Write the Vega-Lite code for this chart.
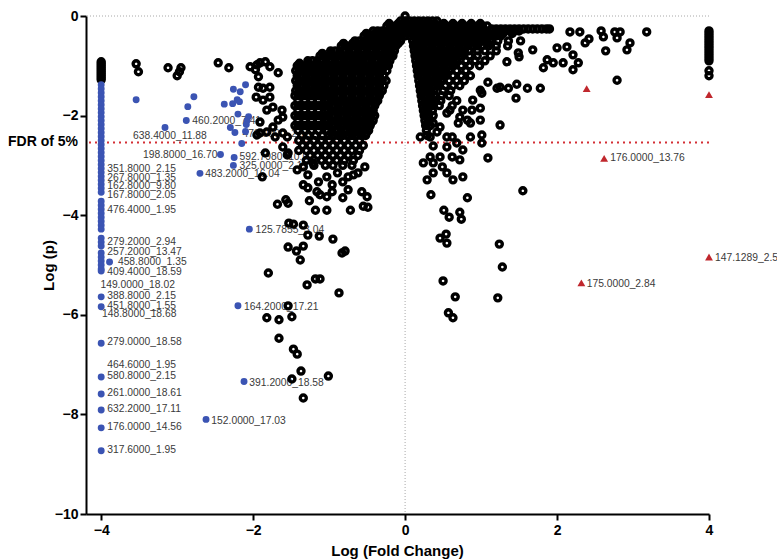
{
"$schema": "https://vega.github.io/schema/vega-lite/v6.json",
"width": 623, "height": 498,
"autosize": {"type": "none"},
"padding": {"left": 86, "top": 16, "right": 68, "bottom": 45},
"background": "white",
"config": {
 "view": {"stroke": null},
 "font": "Liberation Sans",
 "axis": {"domainColor": "black", "domainWidth": 2, "tickColor": "black", "tickWidth": 2, "tickSize": 6, "labelFont": "Liberation Sans", "labelFontWeight": "bold", "labelFontSize": 14, "labelColor": "black", "titleFont": "Liberation Sans", "titleFontWeight": "bold", "titleFontSize": 15, "titleColor": "black", "grid": false, "labelFlush": false}
},
"datasets": {
"rings": [
{"x":0,"y":0},
{"x":-0.06,"y":-0.1},{"x":0,"y":-0.1},{"x":0.06,"y":-0.1},{"x":0.12,"y":-0.1},{"x":0.18,"y":-0.1},{"x":0.24,"y":-0.1},{"x":0.3,"y":-0.1},{"x":0.36,"y":-0.1},{"x":0.42,"y":-0.1},
{"x":-0.24,"y":-0.2},{"x":-0.18,"y":-0.2},{"x":-0.12,"y":-0.2},{"x":-0.06,"y":-0.2},{"x":0,"y":-0.2},{"x":0.06,"y":-0.2},{"x":0.12,"y":-0.2},{"x":0.18,"y":-0.2},{"x":0.24,"y":-0.2},{"x":0.3,"y":-0.2},{"x":0.36,"y":-0.2},{"x":0.42,"y":-0.2},{"x":0.48,"y":-0.2},{"x":0.54,"y":-0.2},{"x":0.6,"y":-0.2},{"x":0.66,"y":-0.2},{"x":0.72,"y":-0.2},{"x":0.78,"y":-0.2},{"x":0.84,"y":-0.2},{"x":0.9,"y":-0.2},{"x":0.96,"y":-0.2},{"x":1.02,"y":-0.2},{"x":1.08,"y":-0.2},
{"x":1.14,"y":-0.26},{"x":1.2,"y":-0.26},{"x":1.26,"y":-0.26},{"x":1.32,"y":-0.26},{"x":1.38,"y":-0.26},{"x":1.44,"y":-0.26},{"x":1.5,"y":-0.26},{"x":1.56,"y":-0.26},{"x":1.62,"y":-0.26},{"x":1.68,"y":-0.26},{"x":1.74,"y":-0.26},{"x":1.8,"y":-0.26},{"x":1.86,"y":-0.26},{"x":1.9,"y":-0.26},
{"x":-0.42,"y":-0.3},{"x":-0.36,"y":-0.3},{"x":-0.3,"y":-0.3},{"x":-0.24,"y":-0.3},{"x":-0.18,"y":-0.3},{"x":-0.12,"y":-0.3},{"x":-0.06,"y":-0.3},{"x":0,"y":-0.3},{"x":0.06,"y":-0.3},{"x":0.12,"y":-0.3},{"x":0.18,"y":-0.3},{"x":0.24,"y":-0.3},{"x":0.3,"y":-0.3},{"x":0.36,"y":-0.3},{"x":0.42,"y":-0.3},{"x":0.48,"y":-0.3},{"x":0.54,"y":-0.3},{"x":0.6,"y":-0.3},{"x":0.66,"y":-0.3},{"x":0.72,"y":-0.3},{"x":0.78,"y":-0.3},{"x":0.84,"y":-0.3},{"x":0.9,"y":-0.3},{"x":0.96,"y":-0.3},{"x":1.02,"y":-0.3},{"x":1.08,"y":-0.3},{"x":1.14,"y":-0.3},{"x":1.2,"y":-0.3},{"x":1.26,"y":-0.3},{"x":1.32,"y":-0.3},{"x":1.38,"y":-0.3},{"x":1.44,"y":-0.3},{"x":1.5,"y":-0.3},
{"x":-0.54,"y":-0.4},{"x":-0.48,"y":-0.4},{"x":-0.42,"y":-0.4},{"x":-0.36,"y":-0.4},{"x":-0.3,"y":-0.4},{"x":-0.24,"y":-0.4},{"x":-0.18,"y":-0.4},{"x":-0.12,"y":-0.4},{"x":-0.06,"y":-0.4},{"x":0,"y":-0.4},{"x":0.06,"y":-0.4},{"x":0.12,"y":-0.4},{"x":0.18,"y":-0.4},{"x":0.24,"y":-0.4},{"x":0.3,"y":-0.4},{"x":0.36,"y":-0.4},{"x":0.42,"y":-0.4},{"x":0.48,"y":-0.4},{"x":0.54,"y":-0.4},{"x":0.6,"y":-0.4},{"x":0.66,"y":-0.4},{"x":0.72,"y":-0.4},{"x":0.78,"y":-0.4},{"x":0.84,"y":-0.4},{"x":0.9,"y":-0.4},{"x":0.96,"y":-0.4},{"x":1.02,"y":-0.4},{"x":1.08,"y":-0.4},{"x":1.14,"y":-0.4},{"x":1.2,"y":-0.4},{"x":1.26,"y":-0.4},
{"x":-0.66,"y":-0.5},{"x":-0.6,"y":-0.5},{"x":-0.54,"y":-0.5},{"x":-0.48,"y":-0.5},{"x":-0.42,"y":-0.5},{"x":-0.36,"y":-0.5},{"x":-0.3,"y":-0.5},{"x":-0.24,"y":-0.5},{"x":-0.18,"y":-0.5},{"x":-0.12,"y":-0.5},{"x":-0.06,"y":-0.5},{"x":0.1,"y":-0.5},{"x":0.16,"y":-0.5},{"x":0.22,"y":-0.5},{"x":0.28,"y":-0.5},{"x":0.34,"y":-0.5},{"x":0.4,"y":-0.5},{"x":0.46,"y":-0.5},{"x":0.52,"y":-0.5},{"x":0.58,"y":-0.5},{"x":0.64,"y":-0.5},{"x":0.7,"y":-0.5},{"x":0.76,"y":-0.5},{"x":0.82,"y":-0.5},{"x":0.88,"y":-0.5},{"x":0.94,"y":-0.5},{"x":1.0,"y":-0.5},{"x":1.06,"y":-0.5},{"x":1.12,"y":-0.5},{"x":1.22,"y":-0.5},{"x":1.36,"y":-0.5},{"x":1.52,"y":-0.5},
{"x":-0.84,"y":-0.6},{"x":-0.78,"y":-0.6},{"x":-0.72,"y":-0.6},{"x":-0.66,"y":-0.6},{"x":-0.6,"y":-0.6},{"x":-0.54,"y":-0.6},{"x":-0.48,"y":-0.6},{"x":-0.42,"y":-0.6},{"x":-0.36,"y":-0.6},{"x":-0.3,"y":-0.6},{"x":-0.24,"y":-0.6},{"x":-0.18,"y":-0.6},{"x":-0.12,"y":-0.6},{"x":0.11,"y":-0.6},{"x":0.17,"y":-0.6},{"x":0.23,"y":-0.6},{"x":0.29,"y":-0.6},{"x":0.35,"y":-0.6},{"x":0.41,"y":-0.6},{"x":0.47,"y":-0.6},{"x":0.53,"y":-0.6},{"x":0.59,"y":-0.6},{"x":0.65,"y":-0.6},{"x":0.71,"y":-0.6},{"x":0.77,"y":-0.6},{"x":0.83,"y":-0.6},{"x":0.89,"y":-0.6},{"x":0.95,"y":-0.6},{"x":1.01,"y":-0.6},{"x":1.1,"y":-0.6},{"x":1.2,"y":-0.6},{"x":1.35,"y":-0.6},
{"x":-0.98,"y":-0.7},{"x":-0.92,"y":-0.7},{"x":-0.86,"y":-0.7},{"x":-0.8,"y":-0.7},{"x":-0.74,"y":-0.7},{"x":-0.68,"y":-0.7},{"x":-0.62,"y":-0.7},{"x":-0.56,"y":-0.7},{"x":-0.5,"y":-0.7},{"x":-0.44,"y":-0.7},{"x":-0.38,"y":-0.7},{"x":-0.32,"y":-0.7},{"x":-0.26,"y":-0.7},{"x":-0.2,"y":-0.7},{"x":-0.14,"y":-0.7},{"x":0.12,"y":-0.7},{"x":0.18,"y":-0.7},{"x":0.24,"y":-0.7},{"x":0.3,"y":-0.7},{"x":0.36,"y":-0.7},{"x":0.42,"y":-0.7},{"x":0.48,"y":-0.7},{"x":0.54,"y":-0.7},{"x":0.6,"y":-0.7},{"x":0.66,"y":-0.7},{"x":0.72,"y":-0.7},{"x":0.78,"y":-0.7},{"x":0.84,"y":-0.7},{"x":0.95,"y":-0.7},{"x":1.05,"y":-0.7},{"x":1.2,"y":-0.7},
{"x":-1.12,"y":-0.8},{"x":-1.06,"y":-0.8},{"x":-1.0,"y":-0.8},{"x":-0.94,"y":-0.8},{"x":-0.88,"y":-0.8},{"x":-0.82,"y":-0.8},{"x":-0.76,"y":-0.8},{"x":-0.7,"y":-0.8},{"x":-0.64,"y":-0.8},{"x":-0.58,"y":-0.8},{"x":-0.52,"y":-0.8},{"x":-0.46,"y":-0.8},{"x":-0.4,"y":-0.8},{"x":-0.34,"y":-0.8},{"x":-0.28,"y":-0.8},{"x":-0.22,"y":-0.8},{"x":-0.16,"y":-0.8},{"x":0.13,"y":-0.8},{"x":0.19,"y":-0.8},{"x":0.25,"y":-0.8},{"x":0.31,"y":-0.8},{"x":0.37,"y":-0.8},{"x":0.43,"y":-0.8},{"x":0.49,"y":-0.8},{"x":0.55,"y":-0.8},{"x":0.61,"y":-0.8},{"x":0.67,"y":-0.8},{"x":0.73,"y":-0.8},{"x":0.85,"y":-0.8},{"x":0.95,"y":-0.8},{"x":1.12,"y":-0.8},
{"x":-1.28,"y":-0.9},{"x":-1.22,"y":-0.9},{"x":-1.16,"y":-0.9},{"x":-1.1,"y":-0.9},{"x":-1.04,"y":-0.9},{"x":-0.98,"y":-0.9},{"x":-0.92,"y":-0.9},{"x":-0.86,"y":-0.9},{"x":-0.8,"y":-0.9},{"x":-0.74,"y":-0.9},{"x":-0.68,"y":-0.9},{"x":-0.62,"y":-0.9},{"x":-0.56,"y":-0.9},{"x":-0.5,"y":-0.9},{"x":-0.44,"y":-0.9},{"x":-0.38,"y":-0.9},{"x":-0.32,"y":-0.9},{"x":-0.26,"y":-0.9},{"x":-0.2,"y":-0.9},{"x":0.14,"y":-0.9},{"x":0.2,"y":-0.9},{"x":0.26,"y":-0.9},{"x":0.32,"y":-0.9},{"x":0.38,"y":-0.9},{"x":0.44,"y":-0.9},{"x":0.5,"y":-0.9},{"x":0.56,"y":-0.9},{"x":0.62,"y":-0.9},{"x":0.68,"y":-0.9},{"x":0.8,"y":-0.9},{"x":0.92,"y":-0.9},{"x":1.05,"y":-0.9},
{"x":-1.42,"y":-1.0},{"x":-1.36,"y":-1.0},{"x":-1.3,"y":-1.0},{"x":-1.24,"y":-1.0},{"x":-1.18,"y":-1.0},{"x":-1.12,"y":-1.0},{"x":-1.06,"y":-1.0},{"x":-1.0,"y":-1.0},{"x":-0.94,"y":-1.0},{"x":-0.88,"y":-1.0},{"x":-0.82,"y":-1.0},{"x":-0.76,"y":-1.0},{"x":-0.7,"y":-1.0},{"x":-0.64,"y":-1.0},{"x":-0.58,"y":-1.0},{"x":-0.52,"y":-1.0},{"x":-0.46,"y":-1.0},{"x":-0.4,"y":-1.0},{"x":-0.34,"y":-1.0},{"x":-0.28,"y":-1.0},{"x":-0.22,"y":-1.0},{"x":0.15,"y":-1.0},{"x":0.21,"y":-1.0},{"x":0.27,"y":-1.0},{"x":0.33,"y":-1.0},{"x":0.39,"y":-1.0},{"x":0.45,"y":-1.0},{"x":0.51,"y":-1.0},{"x":0.57,"y":-1.0},{"x":0.63,"y":-1.0},{"x":0.74,"y":-1.0},{"x":0.85,"y":-1.0},{"x":0.98,"y":-1.0},
{"x":-1.44,"y":-1.1},{"x":-1.38,"y":-1.1},{"x":-1.32,"y":-1.1},{"x":-1.26,"y":-1.1},{"x":-1.2,"y":-1.1},{"x":-1.14,"y":-1.1},{"x":-1.08,"y":-1.1},{"x":-1.02,"y":-1.1},{"x":-0.96,"y":-1.1},{"x":-0.9,"y":-1.1},{"x":-0.84,"y":-1.1},{"x":-0.78,"y":-1.1},{"x":-0.72,"y":-1.1},{"x":-0.66,"y":-1.1},{"x":-0.6,"y":-1.1},{"x":-0.54,"y":-1.1},{"x":-0.48,"y":-1.1},{"x":-0.42,"y":-1.1},{"x":-0.36,"y":-1.1},{"x":-0.3,"y":-1.1},{"x":-0.24,"y":-1.1},{"x":0.16,"y":-1.1},{"x":0.22,"y":-1.1},{"x":0.28,"y":-1.1},{"x":0.34,"y":-1.1},{"x":0.4,"y":-1.1},{"x":0.46,"y":-1.1},{"x":0.52,"y":-1.1},{"x":0.58,"y":-1.1},{"x":0.68,"y":-1.1},{"x":0.8,"y":-1.1},
{"x":-1.42,"y":-1.2},{"x":-1.36,"y":-1.2},{"x":-1.3,"y":-1.2},{"x":-1.24,"y":-1.2},{"x":-1.18,"y":-1.2},{"x":-1.12,"y":-1.2},{"x":-1.06,"y":-1.2},{"x":-1.0,"y":-1.2},{"x":-0.94,"y":-1.2},{"x":-0.88,"y":-1.2},{"x":-0.82,"y":-1.2},{"x":-0.76,"y":-1.2},{"x":-0.7,"y":-1.2},{"x":-0.64,"y":-1.2},{"x":-0.58,"y":-1.2},{"x":-0.52,"y":-1.2},{"x":-0.46,"y":-1.2},{"x":-0.4,"y":-1.2},{"x":-0.34,"y":-1.2},{"x":-0.28,"y":-1.2},{"x":0.17,"y":-1.2},{"x":0.23,"y":-1.2},{"x":0.29,"y":-1.2},{"x":0.35,"y":-1.2},{"x":0.41,"y":-1.2},{"x":0.47,"y":-1.2},{"x":0.53,"y":-1.2},{"x":0.63,"y":-1.2},{"x":0.74,"y":-1.2},{"x":0.86,"y":-1.2},
{"x":-1.44,"y":-1.3},{"x":-1.38,"y":-1.3},{"x":-1.32,"y":-1.3},{"x":-1.26,"y":-1.3},{"x":-1.2,"y":-1.3},{"x":-1.14,"y":-1.3},{"x":-1.08,"y":-1.3},{"x":-1.02,"y":-1.3},{"x":-0.96,"y":-1.3},{"x":-0.9,"y":-1.3},{"x":-0.84,"y":-1.3},{"x":-0.78,"y":-1.3},{"x":-0.72,"y":-1.3},{"x":-0.66,"y":-1.3},{"x":-0.6,"y":-1.3},{"x":-0.54,"y":-1.3},{"x":-0.48,"y":-1.3},{"x":-0.42,"y":-1.3},{"x":-0.36,"y":-1.3},{"x":-0.3,"y":-1.3},{"x":-0.25,"y":-1.3},{"x":0.18,"y":-1.3},{"x":0.24,"y":-1.3},{"x":0.3,"y":-1.3},{"x":0.36,"y":-1.3},{"x":0.42,"y":-1.3},{"x":0.48,"y":-1.3},{"x":0.58,"y":-1.3},{"x":0.68,"y":-1.3},{"x":0.78,"y":-1.3},
{"x":-1.42,"y":-1.4},{"x":-1.36,"y":-1.4},{"x":-1.3,"y":-1.4},{"x":-1.24,"y":-1.4},{"x":-1.18,"y":-1.4},{"x":-1.12,"y":-1.4},{"x":-1.06,"y":-1.4},{"x":-1.0,"y":-1.4},{"x":-0.94,"y":-1.4},{"x":-0.88,"y":-1.4},{"x":-0.82,"y":-1.4},{"x":-0.76,"y":-1.4},{"x":-0.7,"y":-1.4},{"x":-0.64,"y":-1.4},{"x":-0.58,"y":-1.4},{"x":-0.52,"y":-1.4},{"x":-0.46,"y":-1.4},{"x":-0.4,"y":-1.4},{"x":-0.34,"y":-1.4},{"x":-0.28,"y":-1.4},{"x":0.19,"y":-1.4},{"x":0.25,"y":-1.4},{"x":0.31,"y":-1.4},{"x":0.37,"y":-1.4},{"x":0.43,"y":-1.4},{"x":0.53,"y":-1.4},{"x":0.63,"y":-1.4},{"x":0.72,"y":-1.4},
{"x":-1.44,"y":-1.5},{"x":-1.38,"y":-1.5},{"x":-1.32,"y":-1.5},{"x":-1.26,"y":-1.5},{"x":-1.2,"y":-1.5},{"x":-1.14,"y":-1.5},{"x":-1.08,"y":-1.5},{"x":-1.02,"y":-1.5},{"x":-0.96,"y":-1.5},{"x":-0.9,"y":-1.5},{"x":-0.84,"y":-1.5},{"x":-0.78,"y":-1.5},{"x":-0.72,"y":-1.5},{"x":-0.66,"y":-1.5},{"x":-0.6,"y":-1.5},{"x":-0.54,"y":-1.5},{"x":-0.48,"y":-1.5},{"x":-0.42,"y":-1.5},{"x":-0.36,"y":-1.5},{"x":-0.3,"y":-1.5},{"x":0.2,"y":-1.5},{"x":0.26,"y":-1.5},{"x":0.32,"y":-1.5},{"x":0.38,"y":-1.5},{"x":0.5,"y":-1.5},{"x":0.6,"y":-1.5},
{"x":-1.45,"y":-1.6},{"x":-1.36,"y":-1.6},{"x":-1.27,"y":-1.6},{"x":-1.18,"y":-1.6},{"x":-1.09,"y":-1.6},{"x":-1.0,"y":-1.6},{"x":-0.94,"y":-1.6},{"x":-0.88,"y":-1.6},{"x":-0.82,"y":-1.6},{"x":-0.76,"y":-1.6},{"x":-0.7,"y":-1.6},{"x":-0.64,"y":-1.6},{"x":-0.58,"y":-1.6},{"x":-0.52,"y":-1.6},{"x":-0.46,"y":-1.6},{"x":-0.4,"y":-1.6},{"x":-0.34,"y":-1.6},{"x":0.21,"y":-1.6},{"x":0.27,"y":-1.6},{"x":0.33,"y":-1.6},{"x":0.39,"y":-1.6},{"x":0.48,"y":-1.6},{"x":0.58,"y":-1.6},
{"x":-1.41,"y":-1.7},{"x":-1.32,"y":-1.7},{"x":-1.23,"y":-1.7},{"x":-1.14,"y":-1.7},{"x":-1.02,"y":-1.7},{"x":-0.96,"y":-1.7},{"x":-0.9,"y":-1.7},{"x":-0.84,"y":-1.7},{"x":-0.78,"y":-1.7},{"x":-0.72,"y":-1.7},{"x":-0.66,"y":-1.7},{"x":-0.6,"y":-1.7},{"x":-0.54,"y":-1.7},{"x":-0.48,"y":-1.7},{"x":-0.42,"y":-1.7},{"x":-0.36,"y":-1.7},{"x":0.22,"y":-1.7},{"x":0.28,"y":-1.7},{"x":0.34,"y":-1.7},{"x":0.4,"y":-1.7},{"x":0.47,"y":-1.7},{"x":0.68,"y":-1.7},
{"x":-1.45,"y":-1.8},{"x":-1.36,"y":-1.8},{"x":-1.27,"y":-1.8},{"x":-1.18,"y":-1.8},{"x":-1.09,"y":-1.8},{"x":-1.0,"y":-1.8},{"x":-0.94,"y":-1.8},{"x":-0.88,"y":-1.8},{"x":-0.82,"y":-1.8},{"x":-0.76,"y":-1.8},{"x":-0.7,"y":-1.8},{"x":-0.64,"y":-1.8},{"x":-0.58,"y":-1.8},{"x":-0.52,"y":-1.8},{"x":-0.46,"y":-1.8},{"x":-0.4,"y":-1.8},{"x":0.23,"y":-1.8},{"x":0.29,"y":-1.8},{"x":0.35,"y":-1.8},{"x":0.45,"y":-1.8},{"x":0.62,"y":-1.8},
{"x":-1.41,"y":-1.9},{"x":-1.32,"y":-1.9},{"x":-1.23,"y":-1.9},{"x":-1.14,"y":-1.9},{"x":-1.02,"y":-1.9},{"x":-0.96,"y":-1.9},{"x":-0.9,"y":-1.9},{"x":-0.84,"y":-1.9},{"x":-0.78,"y":-1.9},{"x":-0.72,"y":-1.9},{"x":-0.66,"y":-1.9},{"x":-0.6,"y":-1.9},{"x":-0.54,"y":-1.9},{"x":-0.48,"y":-1.9},{"x":-0.42,"y":-1.9},{"x":0.24,"y":-1.9},{"x":0.3,"y":-1.9},{"x":0.36,"y":-1.9},
{"x":-1.45,"y":-2.0},{"x":-1.36,"y":-2.0},{"x":-1.27,"y":-2.0},{"x":-1.18,"y":-2.0},{"x":-1.09,"y":-2.0},{"x":-1.0,"y":-2.0},{"x":-0.94,"y":-2.0},{"x":-0.88,"y":-2.0},{"x":-0.82,"y":-2.0},{"x":-0.76,"y":-2.0},{"x":-0.7,"y":-2.0},{"x":-0.64,"y":-2.0},{"x":-0.58,"y":-2.0},{"x":-0.52,"y":-2.0},{"x":-0.46,"y":-2.0},{"x":-0.4,"y":-2.0},{"x":0.25,"y":-2.0},{"x":0.31,"y":-2.0},{"x":0.37,"y":-2.0},
{"x":-1.41,"y":-2.1},{"x":-1.32,"y":-2.1},{"x":-1.23,"y":-2.1},{"x":-1.14,"y":-2.1},{"x":-1.02,"y":-2.1},{"x":-0.96,"y":-2.1},{"x":-0.9,"y":-2.1},{"x":-0.84,"y":-2.1},{"x":-0.78,"y":-2.1},{"x":-0.72,"y":-2.1},{"x":-0.66,"y":-2.1},{"x":-0.6,"y":-2.1},{"x":-0.54,"y":-2.1},{"x":-0.48,"y":-2.1},{"x":-0.42,"y":-2.1},{"x":0.26,"y":-2.1},{"x":0.32,"y":-2.1},
{"x":-1.45,"y":-2.2},{"x":-1.36,"y":-2.2},{"x":-1.27,"y":-2.2},{"x":-1.18,"y":-2.2},{"x":-1.09,"y":-2.2},{"x":-1.0,"y":-2.2},{"x":-0.94,"y":-2.2},{"x":-0.88,"y":-2.2},{"x":-0.82,"y":-2.2},{"x":-0.76,"y":-2.2},{"x":-0.7,"y":-2.2},{"x":-0.64,"y":-2.2},{"x":-0.58,"y":-2.2},{"x":-0.52,"y":-2.2},{"x":-0.46,"y":-2.2},{"x":0.27,"y":-2.2},{"x":0.33,"y":-2.2},
{"x":-1.41,"y":-2.3},{"x":-1.32,"y":-2.3},{"x":-1.23,"y":-2.3},{"x":-1.14,"y":-2.3},{"x":-1.02,"y":-2.3},{"x":-0.96,"y":-2.3},{"x":-0.9,"y":-2.3},{"x":-0.84,"y":-2.3},{"x":-0.78,"y":-2.3},{"x":-0.72,"y":-2.3},{"x":-0.66,"y":-2.3},{"x":-0.6,"y":-2.3},{"x":-0.54,"y":-2.3},{"x":-0.48,"y":-2.3},{"x":0.28,"y":-2.3},
{"x":-1.36,"y":-2.4},{"x":-1.27,"y":-2.4},{"x":-1.18,"y":-2.4},{"x":-1.09,"y":-2.4},{"x":-1.0,"y":-2.4},{"x":-0.94,"y":-2.4},{"x":-0.88,"y":-2.4},{"x":-0.82,"y":-2.4},{"x":-0.76,"y":-2.4},{"x":-0.7,"y":-2.4},{"x":-0.64,"y":-2.4},{"x":-0.58,"y":-2.4},{"x":-0.52,"y":-2.4},{"x":0.29,"y":-2.4},
{"x":-1.4,"y":-2.5},{"x":-1.3,"y":-2.5},{"x":-1.2,"y":-2.5},{"x":-1.1,"y":-2.5},{"x":-1.0,"y":-2.5},{"x":-0.9,"y":-2.5},{"x":-0.8,"y":-2.5},{"x":-0.7,"y":-2.5},{"x":-0.6,"y":-2.5},
{"x":-1.35,"y":-2.6},{"x":-1.25,"y":-2.6},{"x":-1.15,"y":-2.6},{"x":-1.05,"y":-2.6},{"x":-0.95,"y":-2.6},{"x":-0.85,"y":-2.6},{"x":-0.75,"y":-2.6},{"x":-0.65,"y":-2.6},{"x":-0.55,"y":-2.6},
{"x":-1.4,"y":-2.7},{"x":-1.3,"y":-2.7},{"x":-1.2,"y":-2.7},{"x":-1.1,"y":-2.7},{"x":-1.0,"y":-2.7},{"x":-0.9,"y":-2.7},{"x":-0.8,"y":-2.7},{"x":-0.7,"y":-2.7},{"x":-0.6,"y":-2.7},
{"x":-1.25,"y":-2.8},{"x":-1.15,"y":-2.8},{"x":-1.05,"y":-2.8},{"x":-0.95,"y":-2.8},{"x":-0.85,"y":-2.8},{"x":-0.75,"y":-2.8},{"x":-0.62,"y":-2.8},
{"x":-1.3,"y":-2.9},{"x":-1.1,"y":-2.9},{"x":-1.0,"y":-2.9},{"x":-0.9,"y":-2.9},{"x":-0.8,"y":-2.9},{"x":-0.68,"y":-2.9},
{"x":-1.2,"y":-3.0},{"x":-1.05,"y":-3.0},{"x":-0.95,"y":-3.0},{"x":-0.82,"y":-3.0},{"x":-0.7,"y":-3.0},
{"x":-0.21,"y":-0.15},{"x":-0.09,"y":-0.15},{"x":0.03,"y":-0.15},{"x":0.15,"y":-0.15},{"x":0.27,"y":-0.15},{"x":0.39,"y":-0.15},{"x":0.51,"y":-0.15},{"x":0.63,"y":-0.15},{"x":0.75,"y":-0.15},{"x":0.87,"y":-0.15},{"x":0.99,"y":-0.15},
{"x":-0.51,"y":-0.35},{"x":-0.39,"y":-0.35},{"x":-0.27,"y":-0.35},{"x":-0.15,"y":-0.35},{"x":-0.03,"y":-0.35},{"x":0.09,"y":-0.35},{"x":0.21,"y":-0.35},{"x":0.33,"y":-0.35},{"x":0.45,"y":-0.35},{"x":0.57,"y":-0.35},{"x":0.69,"y":-0.35},{"x":0.81,"y":-0.35},{"x":0.93,"y":-0.35},{"x":1.05,"y":-0.35},{"x":1.17,"y":-0.35},{"x":1.29,"y":-0.35},{"x":1.41,"y":-0.35},
{"x":-0.81,"y":-0.55},{"x":-0.69,"y":-0.55},{"x":-0.57,"y":-0.55},{"x":-0.45,"y":-0.55},{"x":-0.33,"y":-0.55},{"x":-0.21,"y":-0.55},{"x":-0.09,"y":-0.55},{"x":0.13,"y":-0.55},{"x":0.25,"y":-0.55},{"x":0.37,"y":-0.55},{"x":0.49,"y":-0.55},{"x":0.61,"y":-0.55},{"x":0.73,"y":-0.55},{"x":0.85,"y":-0.55},{"x":0.97,"y":-0.55},{"x":1.09,"y":-0.55},
{"x":-1.09,"y":-0.75},{"x":-0.97,"y":-0.75},{"x":-0.85,"y":-0.75},{"x":-0.73,"y":-0.75},{"x":-0.61,"y":-0.75},{"x":-0.49,"y":-0.75},{"x":-0.37,"y":-0.75},{"x":-0.25,"y":-0.75},{"x":-0.17,"y":-0.75},{"x":0.15,"y":-0.75},{"x":0.27,"y":-0.75},{"x":0.39,"y":-0.75},{"x":0.51,"y":-0.75},{"x":0.63,"y":-0.75},{"x":0.75,"y":-0.75},
{"x":-1.39,"y":-0.95},{"x":-1.27,"y":-0.95},{"x":-1.15,"y":-0.95},{"x":-1.03,"y":-0.95},{"x":-0.91,"y":-0.95},{"x":-0.79,"y":-0.95},{"x":-0.67,"y":-0.95},{"x":-0.55,"y":-0.95},{"x":-0.43,"y":-0.95},{"x":-0.31,"y":-0.95},{"x":-0.23,"y":-0.95},{"x":0.17,"y":-0.95},{"x":0.29,"y":-0.95},{"x":0.41,"y":-0.95},{"x":0.53,"y":-0.95},{"x":0.65,"y":-0.95},
{"x":-1.41,"y":-1.15},{"x":-1.29,"y":-1.15},{"x":-1.17,"y":-1.15},{"x":-1.05,"y":-1.15},{"x":-0.93,"y":-1.15},{"x":-0.81,"y":-1.15},{"x":-0.69,"y":-1.15},{"x":-0.57,"y":-1.15},{"x":-0.45,"y":-1.15},{"x":-0.33,"y":-1.15},{"x":0.19,"y":-1.15},{"x":0.31,"y":-1.15},{"x":0.43,"y":-1.15},{"x":0.55,"y":-1.15},
{"x":-1.41,"y":-1.35},{"x":-1.29,"y":-1.35},{"x":-1.17,"y":-1.35},{"x":-1.05,"y":-1.35},{"x":-0.93,"y":-1.35},{"x":-0.81,"y":-1.35},{"x":-0.69,"y":-1.35},{"x":-0.57,"y":-1.35},{"x":-0.45,"y":-1.35},{"x":-0.33,"y":-1.35},{"x":0.21,"y":-1.35},{"x":0.33,"y":-1.35},{"x":0.45,"y":-1.35},
{"x":-1.41,"y":-1.55},{"x":-1.29,"y":-1.55},{"x":-1.17,"y":-1.55},{"x":-1.05,"y":-1.55},{"x":-0.93,"y":-1.55},{"x":-0.81,"y":-1.55},{"x":-0.69,"y":-1.55},{"x":-0.57,"y":-1.55},{"x":-0.45,"y":-1.55},{"x":-0.33,"y":-1.55},{"x":0.23,"y":-1.55},{"x":0.35,"y":-1.55},
{"x":-0.99,"y":-1.75},{"x":-0.87,"y":-1.75},{"x":-0.75,"y":-1.75},{"x":-0.63,"y":-1.75},{"x":-0.51,"y":-1.75},{"x":-0.39,"y":-1.75},{"x":0.25,"y":-1.75},{"x":0.37,"y":-1.75},
{"x":-0.99,"y":-1.95},{"x":-0.87,"y":-1.95},{"x":-0.75,"y":-1.95},{"x":-0.63,"y":-1.95},{"x":-0.51,"y":-1.95},{"x":-0.43,"y":-1.95},{"x":0.27,"y":-1.95},
{"x":-0.99,"y":-2.15},{"x":-0.87,"y":-2.15},{"x":-0.75,"y":-2.15},{"x":-0.63,"y":-2.15},{"x":-0.51,"y":-2.15},{"x":-0.45,"y":-2.15},{"x":0.29,"y":-2.15},
{"x":-0.97,"y":-2.35},{"x":-0.85,"y":-2.35},{"x":-0.73,"y":-2.35},{"x":-0.61,"y":-2.35},{"x":-0.51,"y":-2.35},
{"x":-1.405,"y":-1.6},{"x":-1.315,"y":-1.6},{"x":-1.225,"y":-1.6},{"x":-1.135,"y":-1.6},{"x":-1.045,"y":-1.6},
{"x":-1.405,"y":-1.8},{"x":-1.315,"y":-1.8},{"x":-1.225,"y":-1.8},{"x":-1.135,"y":-1.8},{"x":-1.045,"y":-1.8},
{"x":-1.405,"y":-2.0},{"x":-1.315,"y":-2.0},{"x":-1.225,"y":-2.0},{"x":-1.135,"y":-2.0},{"x":-1.045,"y":-2.0},
{"x":-1.405,"y":-2.2},{"x":-1.315,"y":-2.2},{"x":-1.225,"y":-2.2},{"x":-1.135,"y":-2.2},{"x":-1.045,"y":-2.2},
{"x":-3.54,"y":-0.96},{"x":-3.51,"y":-1.12},{"x":-3.12,"y":-1.04},{"x":-3.0,"y":-1.2},{"x":-2.97,"y":-1.12},{"x":-2.95,"y":-1.04},{"x":-2.46,"y":-0.94},{"x":-2.32,"y":-1.04},{"x":-2.04,"y":-1.02},{"x":-1.95,"y":-0.98},{"x":-1.97,"y":-1.08},{"x":-1.93,"y":-1.22},{"x":-1.93,"y":-1.43},{"x":-1.96,"y":-1.63},{"x":-1.91,"y":-0.94},{"x":-1.84,"y":-0.92},{"x":-1.78,"y":-1.02},{"x":-1.67,"y":-1.14},{"x":-1.87,"y":-1.45},{"x":-1.78,"y":-1.43},{"x":-1.87,"y":-1.69},{"x":-1.78,"y":-1.63},{"x":-1.82,"y":-1.89},{"x":-1.74,"y":-1.83},{"x":-1.62,"y":-1.89},{"x":-1.67,"y":-2.09},{"x":-1.61,"y":-2.03},{"x":-1.91,"y":-2.13},{"x":-1.95,"y":-2.39},{"x":-1.91,"y":-2.35},{"x":-1.82,"y":-2.33},{"x":-1.74,"y":-2.23},{"x":-1.71,"y":-2.43},{"x":-1.61,"y":-2.35},{"x":-1.55,"y":-2.43},{"x":-1.61,"y":-2.63},{"x":-1.54,"y":-2.75},{"x":-1.88,"y":-3.23},{"x":-1.84,"y":-2.75},{"x":-1.55,"y":-2.79},{"x":-1.42,"y":-3.09},{"x":-1.34,"y":-3.03},{"x":-1.21,"y":-2.95},{"x":-1.28,"y":-3.19},{"x":-1.14,"y":-3.33},{"x":-1.03,"y":-3.23},{"x":-0.89,"y":-3.15},{"x":-0.96,"y":-3.39},{"x":-0.82,"y":-3.33},{"x":-0.75,"y":-3.23},{"x":-0.68,"y":-3.19},{"x":-0.62,"y":-3.15},{"x":-0.53,"y":-3.03},{"x":-0.75,"y":-3.49},{"x":-0.57,"y":-3.53},{"x":-0.5,"y":-3.63},{"x":-0.49,"y":-3.84},{"x":-0.55,"y":-3.82},{"x":-0.72,"y":-3.9},{"x":-0.82,"y":-3.65},{"x":-1.03,"y":-3.9},{"x":-1.18,"y":-3.9},{"x":-1.26,"y":-3.71},{"x":-1.12,"y":-3.59},{"x":-1.28,"y":-3.45},{"x":-1.68,"y":-3.78},{"x":-1.57,"y":-3.69},{"x":-1.54,"y":-3.76},{"x":-1.03,"y":-3.63},{"x":-0.96,"y":-3.53},{"x":-1.16,"y":-3.53},{"x":-1.34,"y":-3.39},
{"x":-1.53,"y":-4.16},{"x":-1.47,"y":-4.18},{"x":-1.34,"y":-4.2},{"x":-1.28,"y":-4.4},{"x":-1.13,"y":-4.42},{"x":-0.95,"y":-4.48},{"x":-1.54,"y":-4.64},{"x":-1.43,"y":-4.72},{"x":-1.34,"y":-4.62},{"x":-1.38,"y":-4.9},{"x":-0.83,"y":-4.76},{"x":-0.79,"y":-4.72},{"x":-1.8,"y":-5.16},{"x":-1.29,"y":-5.4},{"x":-1.18,"y":-5.28},{"x":-1.12,"y":-5.28},{"x":-0.87,"y":-5.56},{"x":-1.54,"y":-5.82},{"x":-1.82,"y":-6.06},{"x":-1.66,"y":-6.1},{"x":-1.49,"y":-6.04},{"x":-1.66,"y":-6.47},{"x":-1.47,"y":-6.69},{"x":-1.42,"y":-6.79},{"x":-1.37,"y":-7.13},{"x":-1.49,"y":-7.29},{"x":-1.01,"y":-7.23},{"x":-1.34,"y":-7.67},
{"x":1.34,"y":-0.92},{"x":1.49,"y":-0.74},{"x":1.5,"y":-0.82},{"x":1.68,"y":-0.68},{"x":1.82,"y":-1.04},{"x":1.87,"y":-0.88},{"x":1.95,"y":-0.94},{"x":2.08,"y":-0.94},{"x":2.21,"y":-1.08},{"x":2.28,"y":-0.94},{"x":2.21,"y":-0.78},{"x":2.0,"y":-0.64},{"x":2.13,"y":-0.62},{"x":2.37,"y":-0.54},{"x":2.42,"y":-0.46},{"x":2.17,"y":-0.32},{"x":2.3,"y":-0.32},{"x":2.58,"y":-0.3},{"x":2.61,"y":-0.42},{"x":2.64,"y":-0.7},{"x":2.76,"y":-0.32},{"x":2.83,"y":-0.32},{"x":2.79,"y":-0.44},{"x":2.96,"y":-0.54},{"x":2.92,"y":-0.68},{"x":3.18,"y":-0.32},{"x":2.79,"y":-1.29},{"x":1.78,"y":-1.45},{"x":1.61,"y":-1.45},{"x":1.47,"y":-1.37},{"x":1.46,"y":-1.65},{"x":1.36,"y":-1.45},{"x":1.25,"y":-1.43},{"x":1.21,"y":-1.45},{"x":0.99,"y":-1.49},{"x":1.01,"y":-1.55},{"x":1.09,"y":-1.33},{"x":0.89,"y":-1.69},{"x":0.88,"y":-1.89},{"x":0.99,"y":-1.85},{"x":0.72,"y":-2.03},{"x":0.76,"y":-1.89},{"x":0.7,"y":-2.15},{"x":0.82,"y":-2.09},{"x":0.86,"y":-2.15},{"x":0.99,"y":-2.09},{"x":1.25,"y":-2.19},{"x":0.86,"y":-2.43},{"x":1.01,"y":-2.39},{"x":0.59,"y":-1.89},{"x":0.55,"y":-1.95},{"x":0.46,"y":-2.23},{"x":0.37,"y":-2.15},{"x":0.42,"y":-2.33},{"x":0.55,"y":-2.43},{"x":0.33,"y":-2.43},{"x":0.2,"y":-2.43},
{"x":0.37,"y":-2.61},{"x":0.33,"y":-2.83},{"x":0.24,"y":-2.95},{"x":0.37,"y":-2.95},{"x":0.46,"y":-2.83},{"x":0.55,"y":-2.63},{"x":0.62,"y":-2.43},{"x":0.68,"y":-2.55},{"x":0.76,"y":-2.69},{"x":1.01,"y":-2.55},{"x":1.09,"y":-2.85},{"x":0.29,"y":-3.29},{"x":0.37,"y":-3.15},{"x":0.55,"y":-3.15},{"x":0.63,"y":-3.29},{"x":0.76,"y":-3.23},{"x":0.34,"y":-3.59},{"x":0.82,"y":-3.65},{"x":1.55,"y":-3.51},{"x":0.51,"y":-3.9},{"x":0.58,"y":-4.04},{"x":0.72,"y":-3.94},{"x":0.74,"y":-4.08},{"x":0.46,"y":-4.46},{"x":0.54,"y":-4.38},{"x":0.55,"y":-4.56},{"x":1.24,"y":-4.58},{"x":1.28,"y":-5.04},{"x":1.22,"y":-5.66},{"x":0.5,"y":-5.32},{"x":0.66,"y":-5.64},{"x":0.57,"y":-5.96},{"x":0.63,"y":-6.06},{"x":0.49,"y":-3.03},{"x":0.72,"y":-2.89},{"x":0.62,"y":-2.83},
{"x":4,"y":-0.3},{"x":4,"y":-0.35},{"x":4,"y":-0.4},{"x":4,"y":-0.45},{"x":4,"y":-0.5},{"x":4,"y":-0.55},{"x":4,"y":-0.6},{"x":4,"y":-0.65},{"x":4,"y":-0.7},{"x":4,"y":-0.75},{"x":4,"y":-0.8},{"x":4,"y":-0.85},{"x":4,"y":-0.9},{"x":4,"y":-1.1},{"x":4,"y":-1.2},
{"x":-4,"y":-0.92},{"x":-4,"y":-0.96},{"x":-4,"y":-1.0},{"x":-4,"y":-1.04},{"x":-4,"y":-1.08},{"x":-4,"y":-1.12},{"x":-4,"y":-1.16},{"x":-4,"y":-1.2},{"x":-4,"y":-1.24},{"x":-4,"y":-1.28}
],
"blue": [
{"x":-4,"y":-1.38},{"x":-4,"y":-1.46},{"x":-4,"y":-1.54},{"x":-4,"y":-1.62},{"x":-4,"y":-1.7},{"x":-4,"y":-1.78},{"x":-4,"y":-1.86},{"x":-4,"y":-1.94},{"x":-4,"y":-2.02},{"x":-4,"y":-2.1},{"x":-4,"y":-2.18},{"x":-4,"y":-2.26},{"x":-4,"y":-2.34},{"x":-4,"y":-2.42},{"x":-4,"y":-2.5},{"x":-4,"y":-2.58},{"x":-4,"y":-2.66},{"x":-4,"y":-2.74},{"x":-4,"y":-2.82},{"x":-4,"y":-2.9},{"x":-4,"y":-2.98},{"x":-4,"y":-3.06},{"x":-4,"y":-3.14},{"x":-4,"y":-3.22},{"x":-4,"y":-3.3},{"x":-4,"y":-3.38},{"x":-4,"y":-3.46},{"x":-4,"y":-3.54},
{"x":-4,"y":-3.72},{"x":-4,"y":-3.8},{"x":-4,"y":-3.88},{"x":-4,"y":-3.96},{"x":-4,"y":-4.04},{"x":-4,"y":-4.12},{"x":-4,"y":-4.2},{"x":-4,"y":-4.28},
{"x":-4,"y":-4.46},{"x":-4,"y":-4.54},{"x":-4,"y":-4.62},
{"x":-4,"y":-4.76},{"x":-4,"y":-4.84},{"x":-4,"y":-4.92},{"x":-4,"y":-5.0},{"x":-4,"y":-5.08},{"x":-4,"y":-5.12},
{"x":-4,"y":-5.64},{"x":-4,"y":-5.84},{"x":-4,"y":-6.57},{"x":-4,"y":-7.25},{"x":-4,"y":-7.59},{"x":-4,"y":-7.91},{"x":-4,"y":-8.27},{"x":-4,"y":-8.73},
{"x":-3.89,"y":-4.94},{"x":-3.54,"y":-1.68},{"x":-3.16,"y":-2.24},{"x":-2.88,"y":-2.1},{"x":-2.86,"y":-1.82},{"x":-2.78,"y":-1.62},{"x":-2.43,"y":-2.78},{"x":-2.7,"y":-3.16},{"x":-2.38,"y":-1.77},{"x":-2.26,"y":-1.47},{"x":-2.17,"y":-1.52},{"x":-2.1,"y":-1.38},{"x":-2.27,"y":-1.76},{"x":-2.21,"y":-1.68},{"x":-2.18,"y":-1.72},{"x":-2.2,"y":-1.97},{"x":-2.3,"y":-2.24},{"x":-2.24,"y":-2.34},{"x":-2.06,"y":-2.02},{"x":-2.08,"y":-2.1},{"x":-2.09,"y":-2.18},{"x":-2.1,"y":-2.32},{"x":-2.15,"y":-2.56},{"x":-2.25,"y":-2.84},{"x":-2.26,"y":-3.0},{"x":-2.05,"y":-4.28},{"x":-2.2,"y":-5.82},{"x":-2.12,"y":-7.34},{"x":-2.62,"y":-8.1}
],
"red": [
{"x":2.39,"y":-1.46},{"x":4.0,"y":-1.58},{"x":2.62,"y":-2.86},{"x":2.32,"y":-5.36},{"x":4.0,"y":-4.84}
],
"labels": [
{"x":-3.92,"y":-3.08,"t":"351.8000_2.15"},
{"x":-3.92,"y":-3.26,"t":"267.8000_1.35"},
{"x":-3.92,"y":-3.42,"t":"162.8000_9.80"},
{"x":-3.92,"y":-3.6,"t":"167.8000_2.05"},
{"x":-3.92,"y":-3.9,"t":"476.4000_1.95"},
{"x":-3.92,"y":-4.54,"t":"279.2000_2.94"},
{"x":-3.92,"y":-4.74,"t":"257.2000_13.47"},
{"x":-3.78,"y":-4.94,"t":"458.8000_1.35"},
{"x":-3.92,"y":-5.14,"t":"409.4000_18.59"},
{"x":-4.01,"y":-5.4,"t":"149.0000_18.02"},
{"x":-3.92,"y":-5.62,"t":"388.8000_2.15"},
{"x":-3.92,"y":-5.82,"t":"451.8000_1.55"},
{"x":-3.99,"y":-5.98,"t":"148.8000_18.68"},
{"x":-3.92,"y":-6.55,"t":"279.0000_18.58"},
{"x":-3.92,"y":-7.0,"t":"464.6000_1.95"},
{"x":-3.92,"y":-7.23,"t":"580.8000_2.15"},
{"x":-3.92,"y":-7.58,"t":"261.0000_18.61"},
{"x":-3.92,"y":-7.9,"t":"632.2000_17.11"},
{"x":-3.92,"y":-8.26,"t":"176.0000_14.56"},
{"x":-3.92,"y":-8.72,"t":"317.6000_1.95"},
{"x":-3.58,"y":-2.41,"t":"638.4000_11.88"},
{"x":-2.8,"y":-2.11,"t":"460.2000_7.41"},
{"x":-2.14,"y":-2.37,"t":"479.0000_2.15"},
{"x":-3.45,"y":-2.79,"t":"198.8000_16.70"},
{"x":-2.18,"y":-2.83,"t":"592.7980_10.02"},
{"x":-2.18,"y":-3.01,"t":"325.0000_2.15"},
{"x":-2.63,"y":-3.17,"t":"483.2000_16.04"},
{"x":-1.97,"y":-4.3,"t":"125.7855_3.04"},
{"x":-2.12,"y":-5.84,"t":"164.2000_17.21"},
{"x":-2.05,"y":-7.37,"t":"391.2000_18.58"},
{"x":-2.55,"y":-8.13,"t":"152.0000_17.03"},
{"x":2.7,"y":-2.85,"t":"176.0000_13.76"},
{"x":2.39,"y":-5.38,"t":"175.0000_2.84"},
{"x":4.08,"y":-4.86,"t":"147.1289_2.54"}
]
},
"layer": [
{
 "data": {"values": [{"v": 0}]},
 "mark": {"type": "rule", "color": "#a8a8a8", "strokeDash": [1, 2], "strokeWidth": 1},
 "encoding": {"y": {"datum": 0, "type": "quantitative", "scale": {"domain": [-10, 0], "nice": false, "zero": false}, "title": "Log (p)"}}
},
{
 "data": {"values": [{"v": 0}]},
 "mark": {"type": "rule", "color": "#a8a8a8", "strokeDash": [1, 2], "strokeWidth": 1},
 "encoding": {"x": {"datum": 0, "type": "quantitative", "scale": {"domain": [-4.2, 4], "nice": false, "zero": false}, "title": "Log (Fold Change)"}}
},
{
 "data": {"values": [{"v": 0}]},
 "mark": {"type": "rule", "color": "#d42f35", "strokeDash": [2, 4], "strokeWidth": 2},
 "encoding": {"y": {"datum": -2.54, "type": "quantitative", "scale": {"domain": [-10, 0], "nice": false, "zero": false}, "title": "Log (p)"}}
},
{
 "data": {"name": "labels"},
 "mark": {"type": "text", "align": "left", "baseline": "middle", "fontSize": 10.3, "color": "#3a3a3a", "font": "Liberation Sans"},
 "encoding": {
  "x": {"field": "x", "type": "quantitative", "scale": {"domain": [-4.2, 4], "nice": false, "zero": false}, "title": "Log (Fold Change)"},
  "y": {"field": "y", "type": "quantitative", "scale": {"domain": [-10, 0], "nice": false, "zero": false}, "title": "Log (p)"},
  "text": {"field": "t"}
 }
},
{
 "data": {"name": "rings"},
 "mark": {"type": "point", "shape": "circle", "filled": false, "size": 36, "strokeWidth": 3.4, "color": "black", "opacity": 1},
 "encoding": {
  "x": {"field": "x", "type": "quantitative", "scale": {"domain": [-4.2, 4], "nice": false, "zero": false}, "title": "Log (Fold Change)",
   "axis": {"values": [-4, -2, 0, 2, 4], "format": "d", "labelPadding": 3, "titleX": 311, "titleY": 29, "titleAlign": "center", "titleBaseline": "top", "titleAnchor": null}},
  "y": {"field": "y", "type": "quantitative", "scale": {"domain": [-10, 0], "nice": false, "zero": false}, "title": "Log (p)",
   "axis": {"values": [0, -2, -4, -6, -8, -10], "format": "d", "labelPadding": 2, "titleX": -38, "titleY": 249, "titleAngle": -90, "titleAlign": "center", "titleBaseline": "middle"}}
 }
},
{
 "data": {"name": "blue"},
 "mark": {"type": "circle", "size": 48, "color": "#3b54b3", "opacity": 1},
 "encoding": {
  "x": {"field": "x", "type": "quantitative", "scale": {"domain": [-4.2, 4], "nice": false, "zero": false}, "title": "Log (Fold Change)"},
  "y": {"field": "y", "type": "quantitative", "scale": {"domain": [-10, 0], "nice": false, "zero": false}, "title": "Log (p)"}
 }
},
{
 "data": {"name": "red"},
 "mark": {"type": "point", "shape": "triangle-up", "filled": true, "size": 62, "color": "#c0272d", "opacity": 1},
 "encoding": {
  "x": {"field": "x", "type": "quantitative", "scale": {"domain": [-4.2, 4], "nice": false, "zero": false}, "title": "Log (Fold Change)"},
  "y": {"field": "y", "type": "quantitative", "scale": {"domain": [-10, 0], "nice": false, "zero": false}, "title": "Log (p)"}
 }
},
{
 "data": {"values": [{"x": -4.2, "y": -2.54, "t": "FDR of 5%"}]},
 "mark": {"type": "text", "align": "right", "baseline": "middle", "dx": -8, "fontSize": 14, "fontWeight": "bold", "color": "black", "font": "Liberation Sans"},
 "encoding": {
  "x": {"field": "x", "type": "quantitative", "scale": {"domain": [-4.2, 4], "nice": false, "zero": false}, "title": "Log (Fold Change)"},
  "y": {"field": "y", "type": "quantitative", "scale": {"domain": [-10, 0], "nice": false, "zero": false}, "title": "Log (p)"},
  "text": {"field": "t"}
 }
}
]
}
